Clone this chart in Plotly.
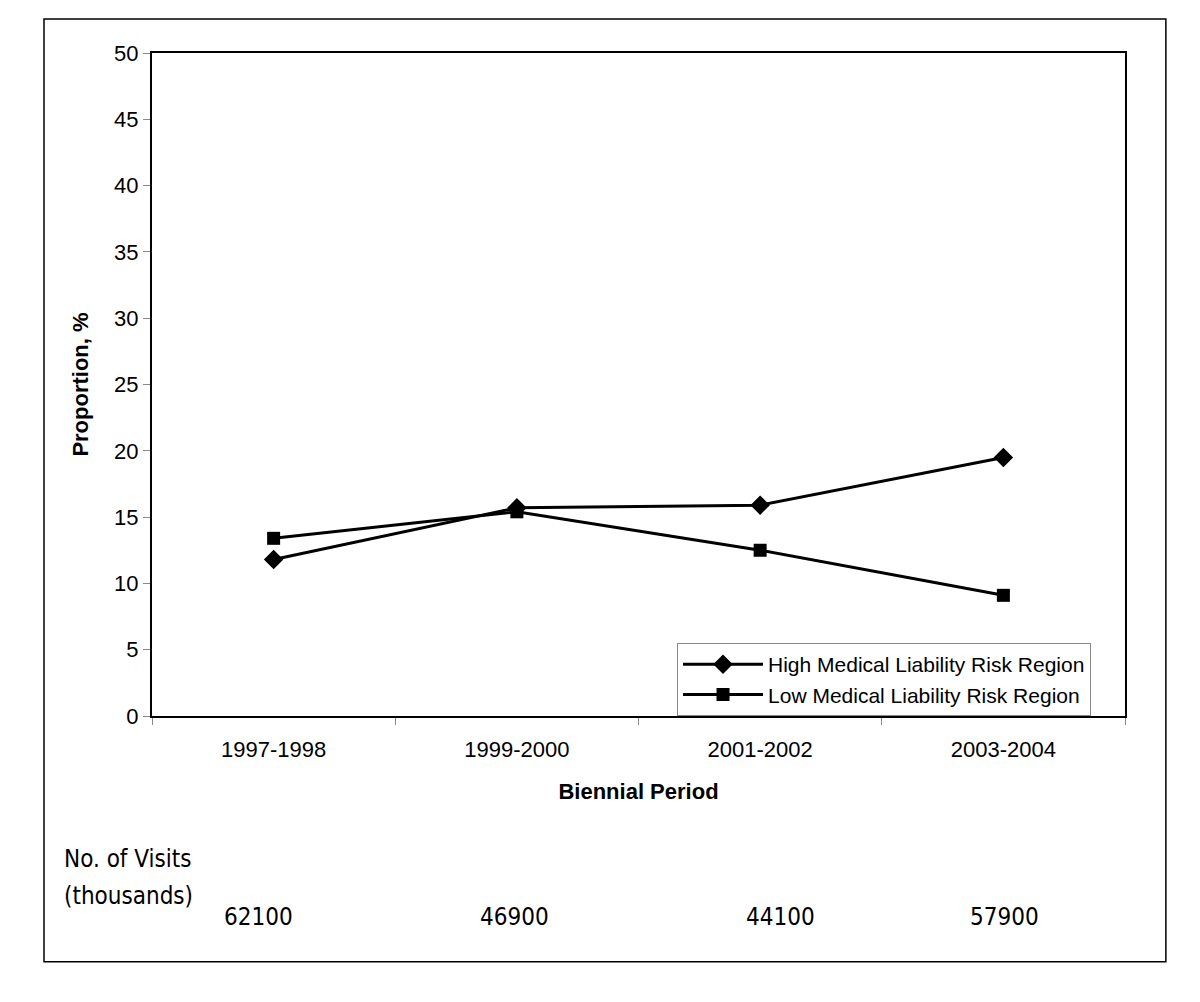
import plotly.graph_objects as go

periods = ["1997-1998", "1999-2000", "2001-2002", "2003-2004"]
high_risk = [11.8, 15.7, 15.9, 19.5]
low_risk = [13.4, 15.4, 12.5, 9.1]
visits = [62100, 46900, 44100, 57900]
y_ticks = [0, 5, 10, 15, 20, 25, 30, 35, 40, 45, 50]

fig = go.Figure()
fig.add_trace(go.Scatter(
    x=periods, y=high_risk, mode="lines+markers",
    name="High Medical Liability Risk Region",
    line=dict(color="black", width=3),
    marker=dict(symbol="diamond", size=15, color="black"),
))
fig.add_trace(go.Scatter(
    x=periods, y=low_risk, mode="lines+markers",
    name="Low Medical Liability Risk Region",
    line=dict(color="black", width=3),
    marker=dict(symbol="square", size=13, color="black"),
))

font_main = "Liberation Sans, Arial, sans-serif"
fig.update_layout(
    width=1200, height=1002,
    margin=dict(l=144, r=83, t=45, b=294),
    paper_bgcolor="white", plot_bgcolor="white",
    font=dict(family=font_main, size=23, color="black"),
    showlegend=True,
    legend=dict(
        x=0.5396, y=0.1099, xanchor="left", yanchor="top",
        bgcolor="white", bordercolor="#888888", borderwidth=1,
        font=dict(size=21), itemwidth=80, tracegroupgap=0,
    ),
    xaxis=dict(
        type="category", range=[-0.5, 3.5],
        tickson="boundaries", ticks="outside", ticklen=7, tickcolor="#888888",
        showline=True, linecolor="black", linewidth=2, mirror=True,
        showgrid=False, tickfont=dict(size=22), ticklabelstandoff=13,
        title=dict(text="<b>Biennial Period</b>", font=dict(size=22), standoff=22),
    ),
    yaxis=dict(
        range=[0, 50], tickvals=y_ticks, ticks="outside", ticklen=7, tickcolor="#888888",
        showline=True, linecolor="black", linewidth=2, mirror=True,
        showgrid=False, zeroline=False, tickfont=dict(size=22),
        title=dict(text="<b>Proportion, %</b>", font=dict(size=22), standoff=19),
    ),
)

# outer frame
fig.add_shape(type="rect", xref="paper", yref="paper",
              x0=-0.111, x1=1.042, y0=-0.3705, y1=1.0512,
              line=dict(color="black", width=1.5), fillcolor="rgba(0,0,0,0)")

visits_font = dict(family="Liberation Sans Narrow, DejaVu Sans Condensed, sans-serif", size=24, color="black")
fig.add_annotation(text="No. of Visits", xref="paper", yref="paper",
                   x=-0.093, y=-0.2160, xanchor="left", yanchor="middle",
                   showarrow=False, font=visits_font)
fig.add_annotation(text="(thousands)", xref="paper", yref="paper",
                   x=-0.093, y=-0.2718, xanchor="left", yanchor="middle",
                   showarrow=False, font=visits_font)
x_shifts = [-15, -2, 20, 1]
for p, v, s in zip(periods, visits, x_shifts):
    fig.add_annotation(text=str(v), xref="x", yref="paper", x=p, y=-0.3027,
                       xanchor="center", yanchor="middle", xshift=s,
                       showarrow=False, font=visits_font)

fig.write_html("out.html")
